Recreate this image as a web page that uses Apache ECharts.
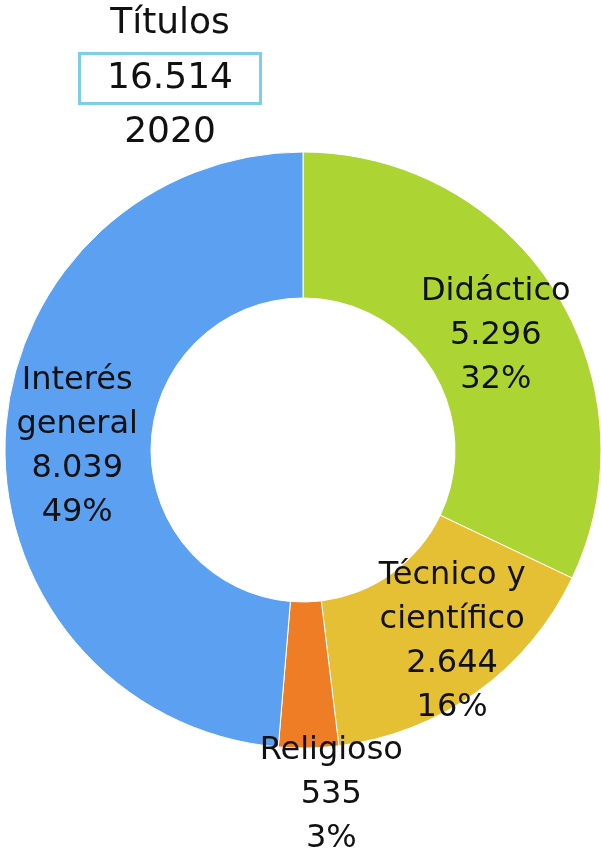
<!DOCTYPE html>
<html>
<head>
<meta charset="utf-8">
<script src="https://cdn.jsdelivr.net/npm/echarts@6/dist/echarts.min.js"></script>
<style>
    html, body { margin: 0; padding: 0; background: #fff; }
    #chart { width: 601px; height: 853px; }
</style>
</head>
<body>
<div id="chart"></div>
<script>
"use strict";
// datos
const categories = ['Didáctico', 'Técnico y\ncientífico', 'Religioso', 'Interés\ngeneral'];
const values = [5296, 2644, 535, 8039];
const colors = ['#acd433', '#e5c034', '#ee7d26', '#5ba0f1'];
const labelShift = [[0, 7], [16, 7], [24, 117], [2, 6]];
const total = '16.514';
const year = '2020';

(() => {
    let chart = echarts.init(document.getElementById('chart'));
    let fmt = v => String(v).replace(/\B(?=(\d{3})+(?!\d))/g, '.');
    let font = 'DejaVu Sans';
    let option = {
        animation: false,
        title: {
            left: 170,
            top: -3,
            textAlign: 'center',
            padding: 0,
            text: '{a|Títulos}\n{b|' + total + '}\n{a|' + year + '}',
            textStyle: {
                fontWeight: 'normal',
                rich: {
                    a: { fontFamily: font, fontSize: 36, fontWeight: 'normal', color: '#111', lineHeight: 54, align: 'center' },
                    b: {
                        fontFamily: font, fontSize: 36, fontWeight: 'normal', color: '#111', lineHeight: 55,
                        width: 181, height: 44, padding: [3, 0], align: 'center',
                        borderColor: '#7ccfe9', borderWidth: 3
                    }
                }
            }
        },
        series: [{
            type: 'pie',
            center: [303, 450],
            radius: [152, 298],
            startAngle: 90,
            clockwise: true,
            avoidLabelOverlap: false,
            itemStyle: { borderColor: '#fff', borderWidth: 1 },
            label: {
                show: true,
                position: 'inside',
                fontFamily: font,
                fontSize: 32,
                lineHeight: 44,
                color: '#111',
                align: 'center',
                formatter: p => p.name + '\n' + fmt(p.value) + '\n' + Math.round(p.percent) + '%'
            },
            labelLine: { show: false },
            labelLayout: p => ({
                dx: labelShift[p.dataIndex][0],
                dy: labelShift[p.dataIndex][1],
                hideOverlap: false
            }),
            emphasis: { disabled: true },
            data: categories.map((c, i) => ({
                name: c,
                value: values[i],
                itemStyle: { color: colors[i] }
            }))
        }]
    };
    chart.setOption(option);
})();
</script>
</body>
</html>
